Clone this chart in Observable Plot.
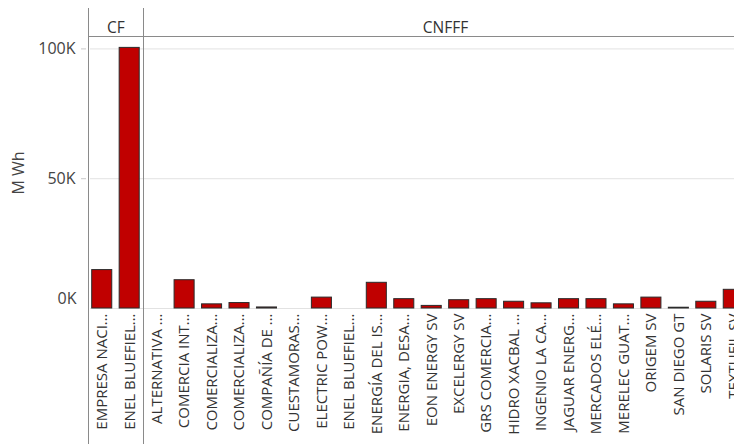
<!DOCTYPE html>
<html><head><meta charset="utf-8">
<script src="https://cdn.jsdelivr.net/npm/d3@7"></script>
<script src="https://cdn.jsdelivr.net/npm/@observablehq/plot@0.6"></script>
<style>
html,body{margin:0;padding:0;overflow:hidden;background:#fff;width:734px;height:444px}
#chart{position:relative;width:747px;height:444px}
#chart svg{max-width:none !important;display:block}
</style></head><body><div id="chart"></div>
<script>
const groups = ["CF","CF","CNFFF","CNFFF","CNFFF","CNFFF","CNFFF","CNFFF","CNFFF","CNFFF","CNFFF","CNFFF","CNFFF","CNFFF","CNFFF","CNFFF","CNFFF","CNFFF","CNFFF","CNFFF","CNFFF","CNFFF","CNFFF","CNFFF"];
const labels = ["EMPRESA NACI…","ENEL BLUEFIEL…","ALTERNATIVA …","COMERCIA INT…","COMERCIALIZA…","COMERCIALIZA…","COMPAÑÍA DE …","CUESTAMORAS…","ELECTRIC POW…","ENEL BLUEFIEL…","ENERGÍA DEL IS…","ENERGIA, DESA…","EON ENERGY SV","EXCELERGY SV","GRS COMERCIA…","HIDRO XACBAL …","INGENIO LA CA…","JAGUAR ENERG…","MERCADOS ELÉ…","MERELEC GUAT…","ORIGEM SV","SAN DIEGO GT","SOLARIS SV","TEXTUFIL SV"];
const values = [14800,100400,0,10900,1600,2100,400,0,4200,0,9900,3600,1000,3200,3600,2600,2000,3600,3600,1600,4200,300,2600,7200];
const yTicks = [0,50000,100000];
const headerKeys = {CF:"1", CNFFF:"13"};

const data = labels.map((l,i)=>({key:String(i), label:l, group:groups[i], value:values[i]}));
const W = 747, H = 444, ML = 88, MT = 37, MB = 136;
const step = (W-ML)/labels.length;
const font = "'Open Sans', sans-serif";
const headers = Object.keys(headerKeys).map(g=>({key:headerKeys[g], t:g}));
const fmt = d=>d/1000+"K";

const plot = Plot.plot({
  width: W, height: H, marginLeft: ML, marginRight: 0, marginTop: MT, marginBottom: MB,
  style: {fontFamily: font, fontSize: "15px", color: "#333", background: "#fff", overflow: "visible"},
  x: {type: "band", round: false, domain: data.map(d=>d.key), paddingInner: 0.27, paddingOuter: 0.135, align: 0.5},
  y: {domain: [0,104400]},
  marks: [
    Plot.ruleY(yTicks, {stroke: "#e2e2e2", strokeWidth: 1, dx: 2}),
    Plot.barY(data, {x: "key", y: "value", fill: "#c00000", stroke: "#2b2b2b", strokeWidth: 1}),
    Plot.axisY(yTicks.filter(d=>d>0), {tickFormat: fmt, tickSize: 5, stroke: "#c8c8c8", dx: -2, tickPadding: 6, label: "M Wh", labelAnchor: "center", labelArrow: "none", labelOffset: 76, fontSize: 16, fill: "#444"}),
    Plot.axisY(yTicks.filter(d=>d===0), {tickFormat: fmt, tickSize: 0, tickPadding: 12, dy: -10, label: null, fontSize: 16, fill: "#444"}),
    Plot.axisX({tickRotate: -90, tickSize: 0, tickPadding: 5, tickFormat: k=>labels[+k], label: null, fontSize: 15, fill: "#333"}),
    Plot.text(headers, {x: "key", text: "t", frameAnchor: "top", dy: -16, dx: -step/2, fontSize: 15.5, fill: "#333"})
  ]
});
document.getElementById("chart").appendChild(plot);

// panel dividers and header line
const sx = plot.scale("x");
const edge = k => sx.apply(k) - (step - sx.bandwidth)/2;
const svg = d3.select(plot);
const g = svg.append("g").attr("stroke", "#8a8a8a").attr("stroke-width", 1);
const firstKeys = [...new Set(groups)].map(gr=>String(groups.indexOf(gr)));
firstKeys.forEach(k=>{
  const x = Math.round(edge(k)) + 0.5;
  g.append("line").attr("x1", x).attr("x2", x).attr("y1", 8).attr("y2", H);
});
g.append("line").attr("x1", Math.round(edge("0"))).attr("x2", W).attr("y1", 36.5).attr("y2", 36.5);
</script></body></html>
